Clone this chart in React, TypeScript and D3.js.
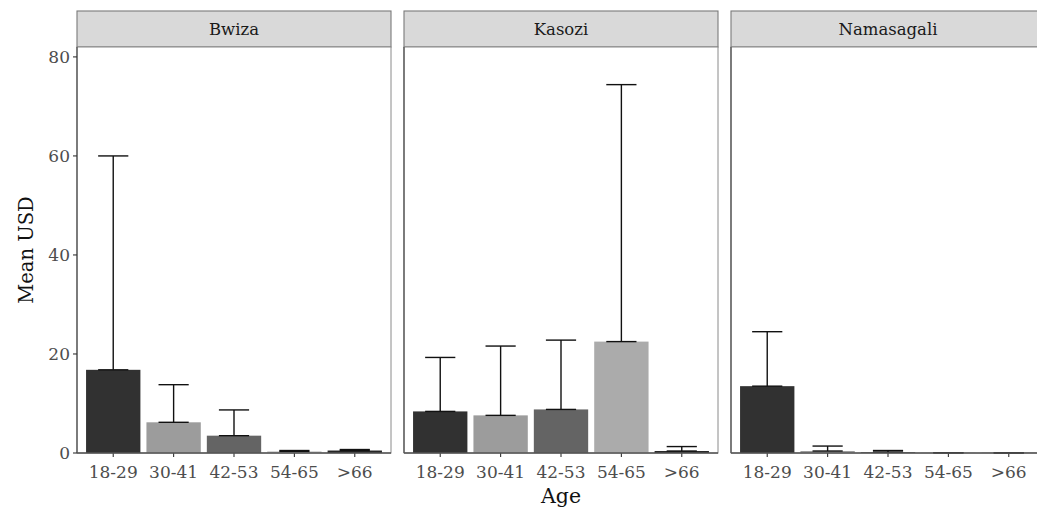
import React from "react";
import * as d3 from "d3";

const sites = ["Bwiza", "Kasozi", "Namasagali"];
const ageGroups = ["18-29", "30-41", "42-53", "54-65", ">66"];
const bwizaMean = [16.8, 6.2, 3.5, 0.3, 0.5];
const bwizaUpper = [60.0, 13.8, 8.7, 0.5, 0.7];
const kasoziMean = [8.4, 7.6, 8.8, 22.5, 0.4];
const kasoziUpper = [19.3, 21.6, 22.8, 74.4, 1.3];
const namasagaliMean = [13.5, 0.4, 0.2, 0.05, 0.02];
const namasagaliUpper = [24.5, 1.4, 0.5, 0.05, 0.02];
const yTicks = [0, 20, 40, 60, 80];
const fills = ["#313131", "#9c9c9c", "#646464", "#ababab", "#262626"];

const means = [bwizaMean, kasoziMean, namasagaliMean];
const uppers = [bwizaUpper, kasoziUpper, namasagaliUpper];

export default function App() {
  const W = 1037, H = 512;
  const panelW = 314, gap = 13, left0 = 77;
  const top = 47, bottom = 453, stripTop = 11;
  const y = d3.scaleLinear().domain([0, 82]).range([bottom, top]);
  const font = "'DejaVu Serif', 'Liberation Serif', serif";
  return (
    <svg width={W} height={H} style={{ position: "absolute", left: 0, top: 0 }}>
      <rect x={0} y={0} width={W} height={H} fill="white" />
      {sites.map((s, i) => {
        const px = left0 + i * (panelW + gap);
        const x = d3.scalePoint<string>().domain(ageGroups).range([px, px + panelW]).padding(0.6);
        const step = x.step();
        const bw = step * 0.9;
        const cw = step * 0.5;
        return (
          <g key={s}>
            <rect x={px} y={stripTop} width={panelW} height={top - stripTop} fill="#d9d9d9" stroke="#7a7a7a" strokeWidth={1.1} />
            <text x={px + panelW / 2} y={(stripTop + top) / 2 + 6} textAnchor="middle" fontFamily={font} fontSize={16.5} fill="#1a1a1a">{s}</text>
            <rect x={px} y={top} width={panelW} height={bottom - top} fill="white" stroke="#8a8a8a" strokeWidth={1} />
            {ageGroups.map((a, j) => {
              const cx = x(a)!;
              const m = means[i][j];
              const u = uppers[i][j];
              return (
                <g key={a}>
                  <rect x={cx - bw / 2} y={y(m)} width={bw} height={bottom - y(m)} fill={fills[j]} />
                  <line x1={cx} x2={cx} y1={y(m)} y2={y(u)} stroke="#111" strokeWidth={1.4} />
                  <line x1={cx - cw / 2} x2={cx + cw / 2} y1={y(m)} y2={y(m)} stroke="#111" strokeWidth={1.4} />
                  <line x1={cx - cw / 2} x2={cx + cw / 2} y1={y(u)} y2={y(u)} stroke="#111" strokeWidth={1.4} />
                  <line x1={cx} x2={cx} y1={bottom} y2={bottom + 4} stroke="#333" strokeWidth={1.1} />
                  <text x={cx} y={bottom + 25} textAnchor="middle" fontFamily={font} fontSize={17} fill="#4d4d4d">{a}</text>
                </g>
              );
            })}
            <line x1={px} x2={px + panelW} y1={bottom} y2={bottom} stroke="#555" strokeWidth={1.3} />
            <line x1={px} x2={px} y1={top} y2={bottom} stroke="#555" strokeWidth={1.3} />
          </g>
        );
      })}
      {yTicks.map((t) => (
        <g key={t}>
          <line x1={left0 - 4} x2={left0} y1={y(t)} y2={y(t)} stroke="#333" strokeWidth={1.1} />
          <text x={left0 - 7} y={y(t) + 6} textAnchor="end" fontFamily={font} fontSize={17} fill="#4d4d4d">{t}</text>
        </g>
      ))}
      <text transform={`translate(33,${(top + bottom) / 2}) rotate(-90)`} textAnchor="middle" fontFamily={font} fontSize={19.5} fill="#111">Mean USD</text>
      <text x={left0 + (3 * panelW + 2 * gap) / 2} y={503} textAnchor="middle" fontFamily={font} fontSize={20.5} fill="#111">Age</text>
    </svg>
  );
}
